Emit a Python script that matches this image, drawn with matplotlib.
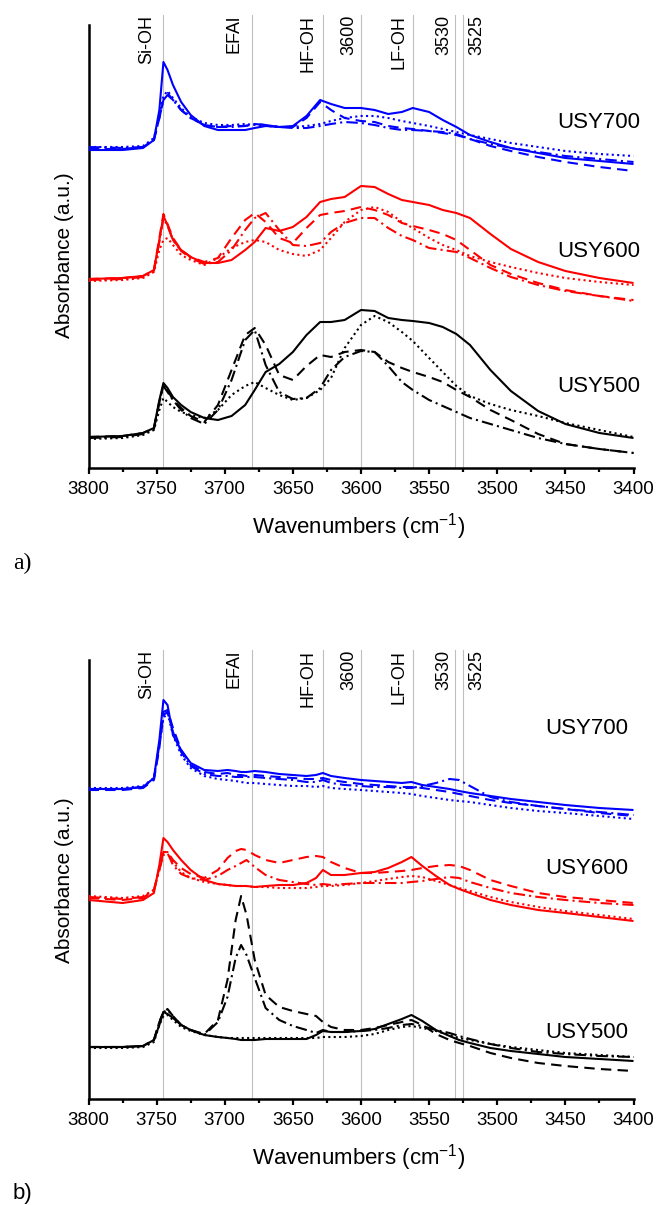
import matplotlib.pyplot as plt
from matplotlib.ticker import MultipleLocator, NullLocator

plt.rcParams["font.family"] = ["Liberation Sans", "DejaVu Sans"]
plt.rcParams["mathtext.default"] = "regular"

# ---- a) spectra, stacked (absorbance, a.u.) ----
wn_a = [3800, 3775, 3760, 3752, 3748, 3745, 3742, 3738, 3732, 3725, 3715, 3705, 3695,
        3685, 3678, 3670, 3660, 3650, 3640, 3630, 3622, 3612, 3600, 3590, 3580, 3570,
        3562, 3550, 3540, 3530, 3520, 3505, 3490, 3470, 3450, 3425, 3400]

a700_solid = [3.18, 3.18, 3.20, 3.28, 3.58, 4.06, 3.98, 3.83, 3.66, 3.53, 3.42, 3.38, 3.38,
              3.38, 3.40, 3.42, 3.41, 3.42, 3.52, 3.68, 3.64, 3.60, 3.60, 3.58, 3.54, 3.56,
              3.60, 3.56, 3.48, 3.41, 3.33, 3.26, 3.20, 3.15, 3.10, 3.07, 3.04]
a700_dash = [3.19, 3.19, 3.21, 3.28, 3.50, 3.68, 3.75, 3.68, 3.58, 3.50, 3.43, 3.41, 3.42,
             3.42, 3.44, 3.43, 3.41, 3.41, 3.50, 3.66, 3.58, 3.50, 3.47, 3.46, 3.42, 3.40,
             3.39, 3.37, 3.35, 3.33, 3.29, 3.22, 3.17, 3.11, 3.06, 3.01, 2.97]
a700_dot = [3.21, 3.21, 3.22, 3.30, 3.53, 3.72, 3.77, 3.70, 3.60, 3.51, 3.45, 3.43, 3.43,
            3.44, 3.43, 3.42, 3.41, 3.41, 3.42, 3.44, 3.47, 3.50, 3.52, 3.52, 3.50, 3.47,
            3.45, 3.42, 3.39, 3.36, 3.33, 3.29, 3.25, 3.21, 3.17, 3.14, 3.12]
a700_dashdot = [3.21, 3.20, 3.21, 3.28, 3.50, 3.68, 3.73, 3.68, 3.58, 3.50, 3.43, 3.41, 3.41,
                3.42, 3.44, 3.43, 3.41, 3.40, 3.40, 3.42, 3.44, 3.46, 3.45, 3.43, 3.40, 3.38,
                3.38, 3.37, 3.36, 3.34, 3.29, 3.24, 3.20, 3.16, 3.12, 3.09, 3.06]

a600_solid = [1.89, 1.90, 1.92, 1.98, 2.28, 2.52, 2.43, 2.28, 2.18, 2.11, 2.05, 2.05, 2.08,
              2.18, 2.26, 2.40, 2.37, 2.41, 2.51, 2.66, 2.69, 2.71, 2.82, 2.81, 2.74, 2.68,
              2.66, 2.63, 2.58, 2.55, 2.50, 2.34, 2.19, 2.06, 1.97, 1.90, 1.85]
a600_dash = [1.89, 1.90, 1.92, 1.98, 2.30, 2.54, 2.44, 2.30, 2.18, 2.11, 2.06, 2.10, 2.30,
             2.48, 2.55, 2.46, 2.30, 2.25, 2.40, 2.53, 2.55, 2.57, 2.61, 2.58, 2.53, 2.45,
             2.42, 2.38, 2.34, 2.28, 2.18, 2.03, 1.94, 1.85, 1.78, 1.72, 1.68]
a600_dot = [1.87, 1.88, 1.90, 1.96, 2.18, 2.28, 2.30, 2.23, 2.13, 2.08, 2.03, 2.10, 2.20,
            2.26, 2.28, 2.26, 2.18, 2.14, 2.12, 2.18, 2.30, 2.46, 2.58, 2.61, 2.56, 2.46,
            2.40, 2.30, 2.23, 2.18, 2.12, 2.06, 2.01, 1.95, 1.90, 1.86, 1.83]
a600_dashdot = [1.88, 1.89, 1.91, 1.97, 2.26, 2.50, 2.42, 2.28, 2.17, 2.10, 2.04, 2.06, 2.18,
                2.38, 2.50, 2.55, 2.38, 2.23, 2.22, 2.25, 2.36, 2.45, 2.50, 2.50, 2.40, 2.32,
                2.28, 2.20, 2.18, 2.16, 2.10, 2.00, 1.91, 1.83, 1.77, 1.72, 1.67]

a500_solid = [0.31, 0.32, 0.35, 0.40, 0.68, 0.85, 0.80, 0.71, 0.63, 0.56, 0.50, 0.48, 0.52,
              0.63, 0.78, 0.96, 1.04, 1.16, 1.33, 1.46, 1.46, 1.48, 1.58, 1.57, 1.50, 1.48,
              1.47, 1.45, 1.41, 1.34, 1.23, 0.98, 0.77, 0.57, 0.44, 0.35, 0.30]
a500_dash = [0.31, 0.32, 0.35, 0.40, 0.66, 0.83, 0.78, 0.68, 0.60, 0.52, 0.46, 0.63, 0.98,
             1.33, 1.40, 1.23, 0.93, 0.88, 1.02, 1.13, 1.11, 1.16, 1.18, 1.16, 1.06, 1.00,
             0.96, 0.91, 0.86, 0.78, 0.71, 0.58, 0.48, 0.34, 0.24, 0.19, 0.15]
a500_dot = [0.29, 0.30, 0.33, 0.38, 0.58, 0.70, 0.66, 0.61, 0.56, 0.53, 0.50, 0.58, 0.73,
            0.82, 0.86, 0.80, 0.73, 0.68, 0.70, 0.78, 0.90, 1.20, 1.43, 1.52, 1.46, 1.36,
            1.27, 1.10, 0.96, 0.82, 0.72, 0.64, 0.58, 0.52, 0.45, 0.38, 0.31]
a500_dashdot = [0.30, 0.31, 0.34, 0.39, 0.66, 0.82, 0.76, 0.68, 0.58, 0.50, 0.44, 0.58, 0.88,
                1.28, 1.38, 1.03, 0.76, 0.69, 0.70, 0.80, 0.98, 1.11, 1.17, 1.16, 1.02, 0.86,
                0.78, 0.68, 0.62, 0.56, 0.50, 0.44, 0.38, 0.30, 0.24, 0.19, 0.15]

# ---- b) spectra, stacked (absorbance, a.u.) ----
wn_b = [3800, 3775, 3760, 3752, 3748, 3745, 3742, 3738, 3732, 3725, 3715, 3705, 3698,
        3692, 3688, 3684, 3678, 3670, 3660, 3650, 3640, 3633, 3628, 3622, 3612, 3600,
        3590, 3580, 3570, 3563, 3555, 3545, 3535, 3528, 3520, 3505, 3490, 3470, 3450,
        3425, 3400]

b700_solid = [3.10, 3.10, 3.12, 3.21, 3.59, 3.99, 3.94, 3.64, 3.49, 3.36, 3.29, 3.28, 3.29,
              3.28, 3.27, 3.27, 3.28, 3.27, 3.25, 3.24, 3.23, 3.24, 3.26, 3.23, 3.21, 3.19,
              3.18, 3.17, 3.16, 3.17, 3.14, 3.12, 3.10, 3.08, 3.06, 3.03, 3.00, 2.97, 2.94,
              2.91, 2.89]
b700_dash = [3.09, 3.09, 3.11, 3.19, 3.51, 3.87, 3.89, 3.71, 3.49, 3.34, 3.27, 3.25, 3.26,
             3.24, 3.24, 3.23, 3.24, 3.23, 3.22, 3.21, 3.20, 3.20, 3.21, 3.19, 3.17, 3.15,
             3.14, 3.13, 3.12, 3.12, 3.11, 3.09, 3.07, 3.05, 3.03, 2.99, 2.96, 2.93, 2.90,
             2.86, 2.83]
b700_dot = [3.11, 3.11, 3.13, 3.21, 3.54, 3.81, 3.86, 3.64, 3.44, 3.31, 3.23, 3.20, 3.19,
            3.18, 3.17, 3.16, 3.16, 3.15, 3.14, 3.13, 3.13, 3.12, 3.13, 3.11, 3.10, 3.09,
            3.08, 3.07, 3.06, 3.05, 3.03, 3.01, 2.99, 2.98, 2.97, 2.94, 2.91, 2.88, 2.86,
            2.83, 2.80]
b700_dashdot = [3.10, 3.10, 3.12, 3.20, 3.54, 3.84, 3.87, 3.67, 3.47, 3.33, 3.25, 3.23, 3.23,
                3.22, 3.22, 3.22, 3.22, 3.21, 3.20, 3.19, 3.17, 3.17, 3.19, 3.16, 3.14, 3.13,
                3.12, 3.12, 3.11, 3.11, 3.13, 3.16, 3.20, 3.19, 3.13, 3.02, 2.97, 2.93, 2.90,
                2.87, 2.84]

b600_solid = [1.99, 1.96, 1.99, 2.06, 2.34, 2.61, 2.57, 2.49, 2.39, 2.29, 2.19, 2.15, 2.14,
              2.13, 2.13, 2.13, 2.12, 2.13, 2.14, 2.14, 2.16, 2.21, 2.29, 2.24, 2.24, 2.26,
              2.27, 2.31, 2.37, 2.42, 2.33, 2.23, 2.14, 2.10, 2.06, 1.99, 1.94, 1.89, 1.86,
              1.82, 1.78]
b600_dash = [2.01, 1.99, 2.01, 2.09, 2.31, 2.47, 2.47, 2.39, 2.31, 2.25, 2.21, 2.29, 2.41,
             2.48, 2.50, 2.49, 2.44, 2.39, 2.36, 2.39, 2.42, 2.43, 2.42, 2.37, 2.31, 2.26,
             2.26, 2.27, 2.28, 2.29, 2.31, 2.33, 2.34, 2.33, 2.29, 2.19, 2.13, 2.06, 2.02,
             1.99, 1.96]
b600_dot = [2.03, 2.01, 2.03, 2.09, 2.29, 2.46, 2.47, 2.37, 2.27, 2.21, 2.17, 2.15, 2.14,
            2.13, 2.13, 2.13, 2.12, 2.12, 2.11, 2.11, 2.11, 2.12, 2.13, 2.13, 2.14, 2.16,
            2.18, 2.20, 2.22, 2.23, 2.22, 2.18, 2.14, 2.11, 2.08, 2.02, 1.97, 1.92, 1.88,
            1.84, 1.80]
b600_dashdot = [2.02, 2.00, 2.02, 2.09, 2.29, 2.44, 2.46, 2.34, 2.25, 2.21, 2.19, 2.23, 2.29,
                2.33, 2.36, 2.39, 2.32, 2.24, 2.19, 2.17, 2.15, 2.14, 2.15, 2.14, 2.15, 2.16,
                2.16, 2.16, 2.16, 2.17, 2.18, 2.20, 2.22, 2.21, 2.17, 2.11, 2.06, 2.02, 1.99,
                1.96, 1.94]

b500_solid = [0.52, 0.52, 0.53, 0.59, 0.74, 0.87, 0.85, 0.81, 0.74, 0.69, 0.64, 0.62, 0.61,
              0.60, 0.59, 0.59, 0.59, 0.60, 0.60, 0.60, 0.60, 0.64, 0.68, 0.67, 0.67, 0.68,
              0.70, 0.75, 0.80, 0.84, 0.78, 0.69, 0.63, 0.59, 0.56, 0.51, 0.48, 0.45, 0.42,
              0.40, 0.38]
b500_dash = [0.52, 0.52, 0.53, 0.59, 0.77, 0.87, 0.90, 0.83, 0.74, 0.69, 0.65, 0.79, 1.19,
             1.79, 2.03, 1.84, 1.39, 1.04, 0.92, 0.88, 0.85, 0.83, 0.77, 0.72, 0.69, 0.69,
             0.71, 0.74, 0.77, 0.79, 0.74, 0.65, 0.59, 0.56, 0.53, 0.46, 0.41, 0.36, 0.33,
             0.30, 0.28]
b500_dot = [0.51, 0.51, 0.52, 0.57, 0.74, 0.83, 0.84, 0.79, 0.72, 0.68, 0.64, 0.62, 0.61,
            0.61, 0.61, 0.61, 0.61, 0.61, 0.61, 0.61, 0.61, 0.61, 0.62, 0.62, 0.62, 0.63,
            0.65, 0.69, 0.72, 0.73, 0.71, 0.68, 0.64, 0.61, 0.59, 0.55, 0.52, 0.49, 0.46,
            0.44, 0.42]
b500_dashdot = [0.52, 0.52, 0.53, 0.59, 0.77, 0.87, 0.89, 0.83, 0.74, 0.69, 0.64, 0.77, 1.02,
                1.41, 1.54, 1.44, 1.21, 0.91, 0.79, 0.73, 0.69, 0.66, 0.69, 0.67, 0.67, 0.68,
                0.69, 0.71, 0.74, 0.75, 0.73, 0.69, 0.66, 0.63, 0.60, 0.55, 0.51, 0.47, 0.45,
                0.43, 0.42]

# band assignments marked with grey lines
band_pos = [3745, 3680, 3628, 3600, 3562, 3531, 3525]
band_text = ["Si-OH", "EFAl", "HF-OH", "3600", "LF-OH", "3530", "3525"]
band_text_x = [3757, 3693, 3639, 3609, 3572, 3539, 3515]

samples = ["USY700", "USY600", "USY500"]
sample_colors = ["#0000ff", "#ff0000", "#000000"]
sample_label_y_a = [3.45, 2.16, 0.81]
sample_label_y_b = [3.70, 2.30, 0.67]

dash_styles = ["-", (0, (5, 3)), (0, (1, 1.6)), (0, (5.5, 2, 1, 2))]

W, H = 656, 1205
fig = plt.figure(figsize=(W / 100, H / 100), dpi=100)


def axes_px(left, top, right, bottom):
    return fig.add_axes([left / W, 1 - bottom / H, (right - left) / W, (bottom - top) / H])


def draw_panel(ax, wn, groups, ymax, label_y, label_right):
    for color, curves in zip(sample_colors, groups):
        for ys, ls in zip(curves, dash_styles):
            ax.plot(wn, ys, color=color, lw=1.5, ls=ls, solid_capstyle="butt",
                    dash_capstyle="butt", zorder=3)
    trans = ax.get_xaxis_transform()
    for x, tx, txt in zip(band_pos, band_text_x, band_text):
        ax.plot([x, x], [0, 1.023], transform=trans, color="#bfbfbf", lw=0.8,
                clip_on=False, zorder=1)
        ax.text(tx, 1.023, txt, transform=trans, rotation=90, ha="center", va="top",
                fontsize=13)
    for name, y in zip(samples, label_y):
        ax.text(label_right, y, name, ha="right", va="center", fontsize=16)

    ax.set_xlim(3800, 3400)
    ax.set_ylim(0, ymax)
    ax.xaxis.set_major_locator(MultipleLocator(50))
    ax.xaxis.set_minor_locator(MultipleLocator(25))
    ax.yaxis.set_major_locator(NullLocator())
    ax.tick_params(axis="x", which="major", direction="out", length=4.5, width=1.6,
                   labelsize=13.5, pad=5)
    ax.tick_params(axis="x", which="minor", direction="out", length=3, width=1.6)
    for side in ("top", "right"):
        ax.spines[side].set_visible(False)
    for side in ("left", "bottom"):
        ax.spines[side].set_linewidth(1.8)


ax_a = axes_px(88.5, 25, 633.5, 468)
draw_panel(ax_a, wn_a,
           [[a700_solid, a700_dash, a700_dot, a700_dashdot],
            [a600_solid, a600_dash, a600_dot, a600_dashdot],
            [a500_solid, a500_dash, a500_dot, a500_dashdot]],
           4.43, sample_label_y_a, 3395)

ax_b = axes_px(88.5, 660, 633.5, 1099)
draw_panel(ax_b, wn_b,
           [[b700_solid, b700_dash, b700_dot, b700_dashdot],
            [b600_solid, b600_dash, b600_dot, b600_dashdot],
            [b500_solid, b500_dash, b500_dot, b500_dashdot]],
           4.39, sample_label_y_b, 3404)

for ycen_ax, ycen_x in ((255, 526.7), (880, 1158)):
    fig.text(65 / W, 1 - ycen_ax / H, "Absorbance (a.u.)", rotation=90,
             ha="center", va="center", fontsize=15)
    fig.text(359 / W, 1 - ycen_x / H, "Wavenumbers (cm$^{-1}$)",
             ha="center", va="center", fontsize=16)

fig.text(22 / W, 1 - 563 / H, "a)", ha="center", va="center", fontsize=17,
         family="Liberation Serif")
fig.text(22 / W, 1 - 1194 / H, "b)", ha="center", va="center", fontsize=16)

fig.savefig("out.png", dpi=100)
